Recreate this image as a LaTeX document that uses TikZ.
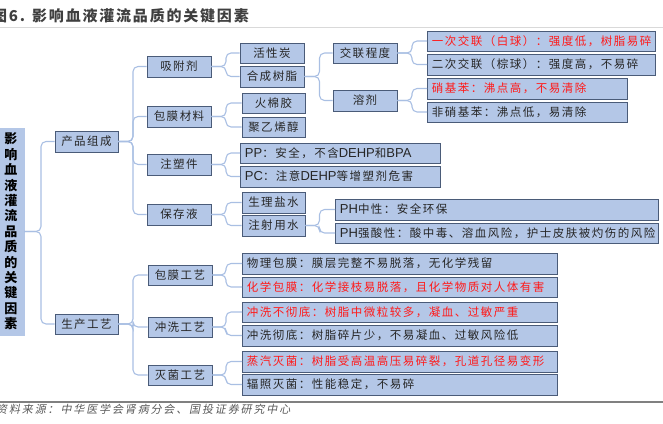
\documentclass[tikz,border=0pt]{standalone}
\usepackage{fontspec}
\setmainfont{Liberation Sans}
\newfontfamily\cjk[LetterSpace=13]{Noto Sans CJK SC}
\newfontfamily\cjktitle[LetterSpace=12]{Noto Sans CJK SC}
\newfontfamily\cjksrc[LetterSpace=17,FakeSlant=0.2]{Noto Sans CJK SC}
\newfontfamily\cjkplain{Noto Sans CJK SC}
\definecolor{boxf}{HTML}{B4C7E7}
\definecolor{boxd}{HTML}{4A5B78}
\definecolor{conc}{HTML}{A9BFE3}
\definecolor{txtc}{HTML}{262626}
\definecolor{redc}{HTML}{FF1A1A}
\definecolor{ttl}{HTML}{3F3F3F}
\newcommand\lt[2]{\makebox[#1pt][l]{#2}}
\newcommand\la[1]{{\rmfamily\fontsize{13}{14}\selectfont #1}}
\begin{document}
\begin{tikzpicture}[x=1pt,y=-1pt,
  box/.style={draw=boxd, fill=boxf, line width=0.9pt, inner xsep=4.5pt, inner ysep=0pt,
    font=\cjk\fontsize{11.5}{13}\selectfont, text=txtc},
  lbox/.style={box, anchor=west},
  redt/.style={text=redc},
  rootbox/.style={draw=boxf, fill=boxf, inner sep=0pt, align=center,
    font=\cjkplain\bfseries\fontsize{13}{15.4}\selectfont, text=black},
  conn/.style={draw=conc, line width=1.1pt, rounded corners=5pt}]
\useasboundingbox (0,0) rectangle (663,423);
% title and rules
\node[anchor=west, inner sep=0pt, font=\cjktitle\bfseries\fontsize{15}{16}\selectfont, text=ttl] (title) at (-8,15.5) {图6. 影响血液灌流品质的关键因素};
\draw[draw=black!15, line width=0.6pt] (0,27) -- (663,27);
\draw[draw=black!50, line width=1.2pt] (0,402) -- (663,402);
\node[anchor=west, inner sep=0pt, font=\cjksrc\fontsize{11}{12}\selectfont, text=black!65] (src) at (-4,409.5) {资料来源：中华医学会肾病分会、国投证券研究中心};
% root
\node[rootbox, minimum width=26, minimum height=207] (root) at (11,231.5) {影\\响\\血\\液\\灌\\流\\品\\质\\的\\关\\键\\因\\素};
% level 1
\node[box, minimum width=63, minimum height=21] (cpzc) at (86.5,141.5) {产品组成};
\node[box, minimum width=63, minimum height=20] (scgy) at (86.5,324) {生产工艺};
% level 2
\node[box, minimum width=64, minimum height=21] (xfj) at (179,66.5) {吸附剂};
\node[box, minimum width=64, minimum height=21] (bmcl) at (179,116.5) {包膜材料};
\node[box, minimum width=64, minimum height=21] (zsj) at (179,164.5) {注塑件};
\node[box, minimum width=64, minimum height=21] (bcy) at (179,214.5) {保存液};
\node[box, minimum width=64, minimum height=20] (bmgy) at (180,275) {包膜工艺};
\node[box, minimum width=64, minimum height=20] (cxgy) at (180,327) {冲洗工艺};
\node[box, minimum width=64, minimum height=20] (mjgy) at (180,375) {灭菌工艺};
% level 3
\node[box, minimum width=64, minimum height=20] (hxt) at (272,53) {活性炭};
\node[box, minimum width=64, minimum height=21] (hcsz) at (272,76.5) {合成树脂};
\node[box, minimum width=63, minimum height=20] (hmj) at (273.5,103) {火棉胶};
\node[box, minimum width=63, minimum height=20] (jyxc) at (273.5,127) {聚乙烯醇};
\node[box, minimum width=63, minimum height=21] (slys) at (273.5,202.5) {生理盐水};
\node[box, minimum width=63, minimum height=21] (zsys) at (273.5,225.5) {注射用水};
\node[lbox, minimum width=200, minimum height=20] (pp) at (240,153) {\lt{191}{\la{PP}：安全，不含\la{DEHP}和\la{BPA}}};
\node[lbox, minimum width=200, minimum height=21] (pc) at (240,176.5) {\lt{191}{\la{PC}：注意\la{DEHP}等增塑剂危害}};
\node[lbox, minimum width=315, minimum height=21] (wlbm) at (242,263.5) {\lt{306}{物理包膜：膜层完整不易脱落，无化学残留}};
\node[lbox, redt, minimum width=315, minimum height=20] (hxbm) at (242,287) {\lt{306}{化学包膜：化学接枝易脱落，且化学物质对人体有害}};
\node[lbox, redt, minimum width=315, minimum height=20] (cxbcd) at (242,312) {\lt{306}{冲洗不彻底：树脂中微粒较多，凝血、过敏严重}};
\node[lbox, minimum width=315, minimum height=21] (cxcd) at (242,335.5) {\lt{306}{冲洗彻底：树脂碎片少，不易凝血、过敏风险低}};
\node[lbox, redt, minimum width=315, minimum height=21] (zqmj) at (242,361.5) {\lt{306}{蒸汽灭菌：树脂受高温高压易碎裂，孔道孔径易变形}};
\node[lbox, minimum width=315, minimum height=21] (fzmj) at (242,384.5) {\lt{306}{辐照灭菌：性能稳定，不易碎}};
% level 4
\node[box, minimum width=64, minimum height=20] (jlcd) at (365,53) {交联程度};
\node[box, minimum width=64, minimum height=21] (rj) at (365,100.5) {溶剂};
\node[lbox, minimum width=323, minimum height=21] (phzx) at (335,209.5) {\lt{314}{\la{PH}中性：安全环保}};
\node[lbox, minimum width=323, minimum height=20] (phqs) at (335,233) {\lt{314}{\la{PH}强酸性：酸中毒、溶血风险，护士皮肤被灼伤的风险}};
% level 5
\node[lbox, redt, minimum width=228, minimum height=20] (ycjl) at (427,41) {\lt{219}{一次交联（白球）：强度低，树脂易碎}};
\node[lbox, minimum width=228, minimum height=21] (ecjl) at (427,64.5) {\lt{219}{二次交联（棕球）：强度高，不易碎}};
\node[lbox, redt, minimum width=200, minimum height=21] (xjb) at (427,88.5) {\lt{191}{硝基苯：沸点高，不易清除}};
\node[lbox, minimum width=200, minimum height=20] (fxjb) at (427,112) {\lt{191}{非硝基苯：沸点低，易清除}};
% spines
\coordinate (s0) at (41,0);
\coordinate (s1) at (133,0);
\coordinate (s2) at (226,0);
\coordinate (s3) at (319.5,0);
\coordinate (s4) at (412,0);
% connectors
\foreach \c in {cpzc,scgy} \draw[conn] (root.east) -- (root.east -| s0) -- (\c.west -| s0) -- (\c.west);
\foreach \c in {xfj,bmcl,zsj,bcy} \draw[conn] (cpzc.east) -- (cpzc.east -| s1) -- (\c.west -| s1) -- (\c.west);
\foreach \c in {bmgy,cxgy,mjgy} \draw[conn] (scgy.east) -- (scgy.east -| s1) -- (\c.west -| s1) -- (\c.west);
\foreach \p/\c in {xfj/hxt,xfj/hcsz,bmcl/hmj,bmcl/jyxc,zsj/pp,zsj/pc,bcy/slys,bcy/zsys,bmgy/wlbm,bmgy/hxbm,cxgy/cxbcd,cxgy/cxcd,mjgy/zqmj,mjgy/fzmj}
  \draw[conn] (\p.east) -- (\p.east -| s2) -- (\c.west -| s2) -- (\c.west);
\foreach \p/\c in {hcsz/jlcd,hcsz/rj,zsys/phzx,zsys/phqs}
  \draw[conn] (\p.east) -- (\p.east -| s3) -- (\c.west -| s3) -- (\c.west);
\foreach \p/\c in {jlcd/ycjl,jlcd/ecjl,rj/xjb,rj/fxjb}
  \draw[conn] (\p.east) -- (\p.east -| s4) -- (\c.west -| s4) -- (\c.west);
\end{tikzpicture}
\end{document}
